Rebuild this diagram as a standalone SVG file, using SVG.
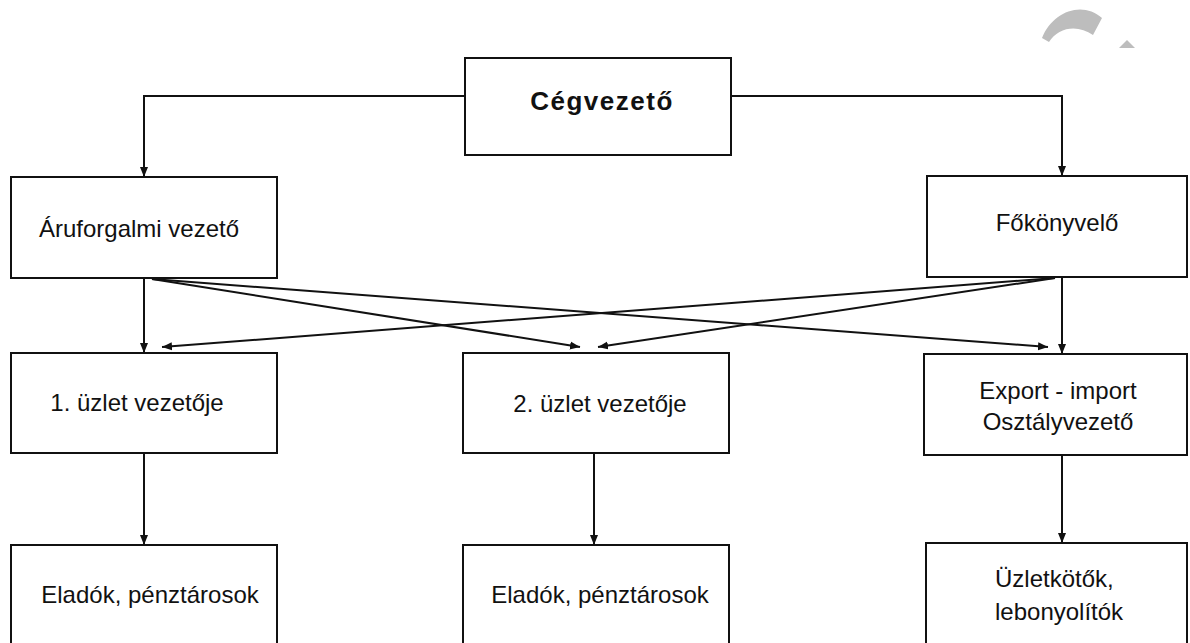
<svg xmlns="http://www.w3.org/2000/svg" width="1190" height="643" viewBox="0 0 1190 643">
<style>
.box{fill:#fff;stroke:#111;stroke-width:2}
.t{font-family:"Liberation Sans",Arial,sans-serif;font-size:24px;fill:#111}
.b{font-weight:bold;font-size:26px;letter-spacing:1.5px}
.c{fill:none;stroke:#111;stroke-width:2}
</style>
<defs>
<marker id="ah" viewBox="0 0 10 10" refX="10" refY="5" markerWidth="10" markerHeight="10" orient="auto" markerUnits="userSpaceOnUse">
<path d="M0,1 L10,5 L0,9 z" fill="#111"/>
</marker>
</defs>
<rect width="1190" height="643" fill="#fff"/>
<g id="watermark" fill="#bdbdbd">
<path d="M1042,38 C1052,12 1082,0 1102,18 L1093,35 C1078,24 1058,27 1049,42 Z"/>
<path d="M1119,48 L1127,40 L1135,48 Z"/>
</g>
<g id="connectors" class="c">
<path class="c" d="M465,96 H144 V177" marker-end="url(#ah)"/>
<path class="c" d="M731,96 H1062 V176" marker-end="url(#ah)"/>
<path class="c" d="M144,278 V353" marker-end="url(#ah)"/>
<path class="c" d="M1062,277 V354" marker-end="url(#ah)"/>
<path class="c" d="M152,279 L1048,347" marker-end="url(#ah)"/>
<path class="c" d="M152,279 L580,347" marker-end="url(#ah)"/>
<path class="c" d="M1055,278 L162,347" marker-end="url(#ah)"/>
<path class="c" d="M1055,278 L598,347" marker-end="url(#ah)"/>
<path class="c" d="M144,453 V545" marker-end="url(#ah)"/>
<path class="c" d="M594,453 V545" marker-end="url(#ah)"/>
<path class="c" d="M1062,455 V543" marker-end="url(#ah)"/>
</g>
<g id="cegvezeto">
<rect class="box" x="465" y="58" width="266" height="97"/>
<text class="t b" x="602" y="110" text-anchor="middle">Cégvezető</text>
</g>
<g id="aruforgalmi">
<rect class="box" x="11" y="177" width="266" height="101"/>
<text class="t" x="139" y="237" text-anchor="middle">Áruforgalmi vezető</text>
</g>
<g id="fokonyvelo">
<rect class="box" x="927" y="176" width="260" height="101"/>
<text class="t" x="1057" y="231" text-anchor="middle">Főkönyvelő</text>
</g>
<g id="uzlet1">
<rect class="box" x="11" y="353" width="266" height="100"/>
<text class="t" x="137" y="411" text-anchor="middle">1. üzlet vezetője</text>
</g>
<g id="uzlet2">
<rect class="box" x="463" y="353" width="266" height="100"/>
<text class="t" x="600" y="412" text-anchor="middle">2. üzlet vezetője</text>
</g>
<g id="export">
<rect class="box" x="924" y="354" width="263" height="101"/>
<text class="t" x="1058" y="399" text-anchor="middle">Export - import</text>
<text class="t" x="1058" y="430" text-anchor="middle">Osztályvezető</text>
</g>
<g id="eladok1">
<rect class="box" x="11" y="545" width="266" height="120"/>
<text class="t" x="150" y="603" text-anchor="middle">Eladók, pénztárosok</text>
</g>
<g id="eladok2">
<rect class="box" x="463" y="545" width="266" height="120"/>
<text class="t" x="600" y="603" text-anchor="middle">Eladók, pénztárosok</text>
</g>
<g id="uzletkotok">
<rect class="box" x="926" y="543" width="261" height="120"/>
<text class="t" x="995" y="587">Üzletkötők,</text>
<text class="t" x="995" y="620">lebonyolítók</text>
</g>
</svg>
